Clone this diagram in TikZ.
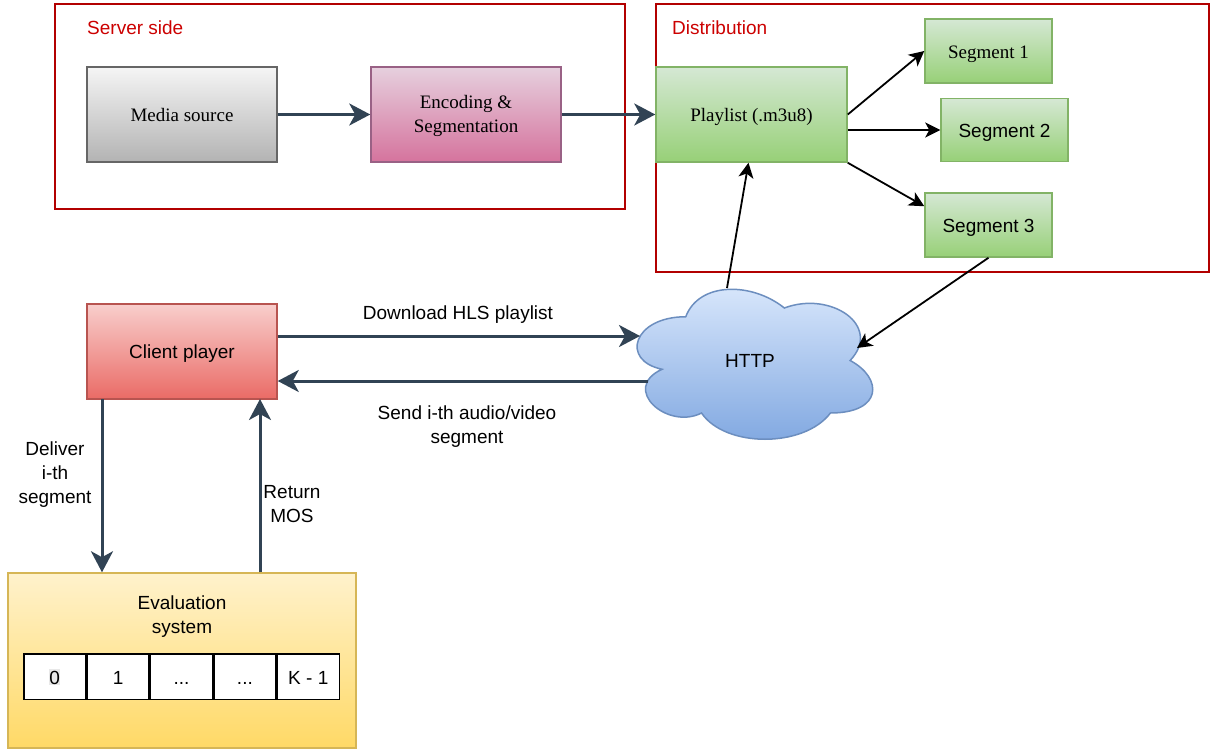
\documentclass[tikz,border=0pt]{standalone}
\usepackage{fontspec}
\setmainfont{Liberation Serif}
\setsansfont{Liberation Sans}
\usetikzlibrary{arrows.meta,calc}
\definecolor{darkarrow}{HTML}{314354}
\definecolor{contred}{HTML}{B20000}
\definecolor{labred}{HTML}{CC0000}
\definecolor{grayA}{HTML}{F5F5F5}\definecolor{grayB}{HTML}{B3B3B3}\definecolor{grayS}{HTML}{666666}
\definecolor{pinkA}{HTML}{E6D0DE}\definecolor{pinkB}{HTML}{D5739D}\definecolor{pinkS}{HTML}{996185}
\definecolor{greenA}{HTML}{D5E8D4}\definecolor{greenB}{HTML}{97D077}\definecolor{greenS}{HTML}{82B366}
\definecolor{redA}{HTML}{F8CECC}\definecolor{redB}{HTML}{EA6B66}\definecolor{redS}{HTML}{B85450}
\definecolor{yelA}{HTML}{FFF2CC}\definecolor{yelB}{HTML}{FFD966}\definecolor{yelS}{HTML}{D6B656}
\definecolor{blueA}{HTML}{DAE8FC}\definecolor{blueB}{HTML}{7EA6E0}\definecolor{blueS}{HTML}{6C8EBF}
\tikzset{
  txt/.style={font=\sffamily\fontsize{19}{24}\selectfont, align=center, text=black},
  serif/.style={font=\rmfamily\fontsize{19}{24}\selectfont, align=center, text=black},
  oneline/.style={text height=14.5pt, text depth=0pt},
  contbox/.style={draw=contred, line width=1.5pt},
  contlabel/.style={font=\sffamily\fontsize{19}{24}\selectfont, text=labred, anchor=west, inner sep=0pt},
  boxbase/.style={rectangle, line width=1.5pt, inner sep=2pt},
  graybox/.style={boxbase, draw=grayS, top color=grayA, bottom color=grayB},
  pinkbox/.style={boxbase, draw=pinkS, top color=pinkA, bottom color=pinkB},
  greenbox/.style={boxbase, draw=greenS, top color=greenA, bottom color=greenB},
  redbox/.style={boxbase, draw=redS, top color=redA, bottom color=redB},
  yelbox/.style={boxbase, draw=yelS, top color=yelA, bottom color=yelB},
  cellbox/.style={rectangle, draw=black, line width=1.5pt, fill=white, minimum width=61.9pt, minimum height=45.5pt, inner sep=0pt, outer sep=0.75pt, text height=15pt, text depth=0pt, font=\sffamily\fontsize{19}{24}\selectfont},
  bigarrow/.style={draw=darkarrow, line width=3pt, -{Stealth[length=21pt 0 0,width=22pt 0 0,inset=6pt]}},
  thinarrow/.style={draw=black, line width=1.8pt, -{Stealth[length=15pt 0 0,width=15pt 0 0,inset=4pt]}},
}
\begin{document}
\begin{tikzpicture}[x=1pt,y=-1pt]
\useasboundingbox (0,0) rectangle (1210,749);
\fill[white] (0,0) rectangle (1210,749);

% containers
\draw[contbox] (55,4) rectangle (625,209);
\node[contlabel] (serverlab) at (87,28) {Server side};
\draw[contbox] (656,4) rectangle (1209,272);
\node[contlabel] (distlab) at (672,28) {Distribution};

% top nodes
\node[graybox, minimum width=190pt, minimum height=95pt, serif, oneline] (media) at (182,114.5) {Media source};
\node[pinkbox, minimum width=190pt, minimum height=95pt] (enc) at (466,114.5) {};
\node[serif] (enclab) at (466,116) {Encoding \&\\Segmentation};
\node[greenbox, minimum width=191pt, minimum height=95pt, serif, oneline] (play) at (751.5,114.5) {Playlist (.m3u8)};
\node[greenbox, minimum width=127pt, minimum height=64pt, serif, oneline] (seg1) at (988.5,51) {Segment 1};
\node[greenbox, minimum width=127pt, minimum height=63pt, txt, oneline] (seg2) at (1004.5,130) {Segment 2};
\node[greenbox, minimum width=127pt, minimum height=64pt, txt, oneline] (seg3) at (988.5,225) {Segment 3};

% cloud
\begin{scope}[shift={(620,273)}, x=263pt, y=-175pt]
\path[draw=blueS, line width=1.5pt, top color=blueA, bottom color=blueB]
  (0.25,0.25) .. controls (0.05,0.25) and (0,0.5) .. (0.16,0.55)
  .. controls (0,0.66) and (0.18,0.9) .. (0.31,0.8)
  .. controls (0.4,1) and (0.7,1) .. (0.8,0.8)
  .. controls (1,0.8) and (1,0.6) .. (0.875,0.5)
  .. controls (1,0.3) and (0.8,0.1) .. (0.625,0.2)
  .. controls (0.5,0.05) and (0.3,0.05) .. (0.25,0.25) -- cycle;
\end{scope}
\node[txt, oneline] (http) at (750,360) {HTTP};
\coordinate (cloudL) at (640,336);
\coordinate (cloudLL) at (648,381);
\coordinate (cloudT) at (727,288);
\coordinate (cloudR) at (857,348);

% client & evaluation
\node[redbox, minimum width=190pt, minimum height=95pt, txt, oneline] (client) at (182,351.5) {Client player};
\node[yelbox, minimum width=348pt, minimum height=175pt] (eval) at (182,660.5) {};
\node[txt] (evallab) at (182,617) {Evaluation\\system};
\node[cellbox] (c0) at (54.7,676.5) {};
\node[fill=gray!18, inner sep=0.5pt, text height=15pt, text depth=0pt, font=\sffamily\fontsize{19}{24}\selectfont] (c0t) at (c0) {0};
\node[cellbox, anchor=west] (c1) at (c0.east) {1};
\node[cellbox, anchor=west] (c2) at (c1.east) {...};
\node[cellbox, anchor=west] (c3) at (c2.east) {...};
\node[cellbox, anchor=west] (c4) at (c3.east) {K - 1};

% arrows top
\draw[bigarrow] (media.east) -- (enc.west);
\draw[bigarrow] (enc.east) -- (play.west);
\draw[thinarrow] (play.east) -- (seg1.west);
\draw[thinarrow] (play.east |- seg2.west) -- (seg2.west);
\draw[thinarrow] (play.south east) -- ($(seg3.north west)+(0,14)$);
\draw[thinarrow] (cloudT) -- ($(play.south)+(-3,0)$);
\draw[thinarrow] (seg3.south) -- (cloudR);

% client arrows
\draw[bigarrow] (client.east |- cloudL) -- (cloudL);
\draw[bigarrow] (cloudLL) -- (client.east |- cloudLL);
\node[txt] (dlab) at (458,315) {Download HLS playlist};
\node[txt] (slab) at (467,427) {Send i-th audio/video\\segment};

\coordinate (dtop) at (102,399);
\coordinate (rtop) at (260,399);
\draw[bigarrow] (dtop) -- (dtop |- eval.north);
\draw[bigarrow] (rtop |- eval.north) -- (rtop);
\node[txt] (delab) at (55,475) {Deliver\\i-th\\segment};
\node[txt] (rlab) at (292,504) {Return\\MOS};
\end{tikzpicture}
\end{document}
